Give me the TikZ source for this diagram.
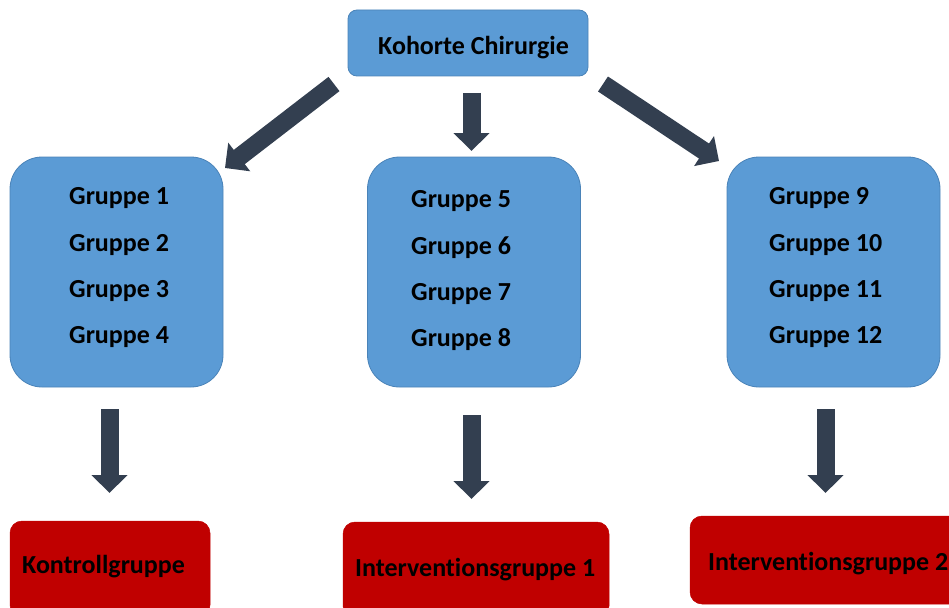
\documentclass[tikz,border=0pt]{standalone}
\usepackage{fontspec}
\setmainfont{Carlito}[Ligatures={NoCommon,NoDiscretionary}]
\usetikzlibrary{arrows.meta}
\definecolor{boxblue}{HTML}{5B9BD5}
\definecolor{boxblueline}{HTML}{4A83B8}
\definecolor{boxred}{HTML}{C00000}
\definecolor{arrowdark}{HTML}{333F50}
\tikzset{
  bluebox/.style={draw=boxblueline, line width=0.8pt, fill=boxblue, inner sep=0pt},
  redbox/.style={draw=boxred, line width=0.5pt, fill=boxred, inner sep=0pt, rounded corners=12pt},
  label/.style={inner sep=0pt, anchor=base west, text=black, font=\bfseries\fontsize{26}{30}\selectfont},
  blockarrow/.style={draw=arrowdark, line width=18pt, -{Triangle[width=35pt,length=18pt,fill=arrowdark]}},
}
\begin{document}
\begin{tikzpicture}[x=1pt,y=-1pt]
\useasboundingbox (0,0) rectangle (949,607);
\clip (0,0) rectangle (949,607);
% top box
\node[bluebox, rounded corners=9pt, minimum width=240pt, minimum height=66pt] (top) at (468,43) {};
\node[label] (toptext) at (378,55) {Kohorte Chirurgie};
% group boxes
\node[bluebox, rounded corners=32pt, minimum width=213pt, minimum height=230pt] (g1) at (116.5,272) {};
\node[bluebox, rounded corners=32pt, minimum width=213pt, minimum height=230pt] (g2) at (474,272) {};
\node[bluebox, rounded corners=32pt, minimum width=213pt, minimum height=230pt] (g3) at (833.5,272) {};
\node[label] (t1) at (69,204) {Gruppe 1};
\node[label] (t2) at (69,251) {Gruppe 2};
\node[label] (t3) at (69,297) {Gruppe 3};
\node[label] (t4) at (69,343) {Gruppe 4};
\node[label] (t5) at (411,207) {Gruppe 5};
\node[label] (t6) at (411,254) {Gruppe 6};
\node[label] (t7) at (411,300) {Gruppe 7};
\node[label] (t8) at (411,346) {Gruppe 8};
\node[label] (t9) at (769,204) {Gruppe 9};
\node[label] (t10) at (769,251) {Gruppe 10};
\node[label] (t11) at (769,297) {Gruppe 11};
\node[label] (t12) at (769,343) {Gruppe 12};
% result boxes
\node[redbox, minimum width=200pt, minimum height=96pt] (r1) at (110,569) {};
\node[redbox, minimum width=266pt, minimum height=96pt] (r2) at (476,570) {};
\node[redbox, minimum width=280pt, minimum height=88pt] (r3) at (830,560) {};
\node[label] (rt1) at (22,573) {Kontrollgruppe};
\node[label] (rt2) at (355,576) {Interventionsgruppe 1};
\node[label] (rt3) at (708,570) {Interventionsgruppe 2};
% arrow end points
\coordinate (a1s) at (334,84);
\coordinate (a1e) at (225,168);
\coordinate (a2s) at (471.5,93);
\coordinate (a2e) at (471.5,151);
\coordinate (a3s) at (603,84);
\coordinate (a3e) at (719,161);
\coordinate (b1s) at (109.5,409);
\coordinate (b1e) at (109.5,493);
\coordinate (b2s) at (471.5,415);
\coordinate (b2e) at (471.5,499);
\coordinate (b3s) at (825.5,409);
\coordinate (b3e) at (825.5,493);
\draw[blockarrow] (a1s) -- (a1e);
\draw[blockarrow] (a2s) -- (a2e);
\draw[blockarrow] (a3s) -- (a3e);
\draw[blockarrow] (b1s) -- (b1e);
\draw[blockarrow] (b2s) -- (b2e);
\draw[blockarrow] (b3s) -- (b3e);
\end{tikzpicture}
\end{document}
